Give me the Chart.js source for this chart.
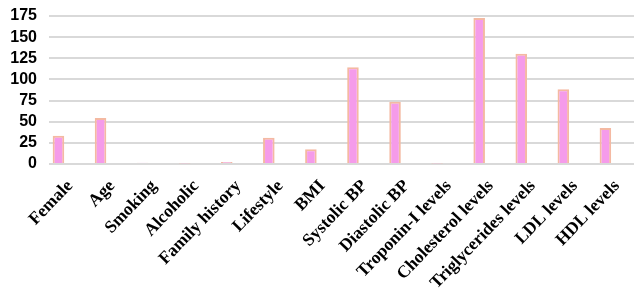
<!DOCTYPE html>
<html>
<head>
<meta charset="utf-8">
<script src="https://cdn.jsdelivr.net/npm/chart.js@4"></script>
<style>
    html, body { margin: 0; padding: 0; background: #fff; overflow: hidden; }
    #wrap { width: 638px; height: 291px; }
</style>
</head>
<body>
<div id="wrap"><canvas id="chart" width="638" height="291"></canvas></div>
<script>
// --- DATA ---
const categories = ['Female', 'Age', 'Smoking', 'Alcoholic', 'Family history', 'Lifestyle', 'BMI',
    'Systolic BP', 'Diastolic BP', 'Troponin-I levels', 'Cholesterol levels', 'Triglycerides levels',
    'LDL levels', 'HDL levels'];
const values = [33.5, 54.5, 1.5, 0.5, 2.5, 31, 17.5, 114.5, 73.5, 0.5, 172.5, 130.5, 88.5, 42.5];
const yTicks = [0, 25, 50, 75, 100, 125, 150, 175];

// --- CHART ---
const ctx = document.getElementById('chart').getContext('2d');
new Chart(ctx, {
    type: 'bar',
    data: {
        labels: categories,
        datasets: [{
            label: 'Series 1',
            data: values,
            backgroundColor: '#F59BEA',
            borderColor: '#F4B9A2',
            borderWidth: 2,
            categoryPercentage: 1.1,
            barPercentage: 0.5
        }, {
            // empty second series (keeps the bars left of centre, like the source)
            label: 'Series 2',
            data: [],
            categoryPercentage: 1.1,
            barPercentage: 0.5
        }]
    },
    options: {
        responsive: false,
        animation: false,
        layout: { padding: { top: 16, right: 0, bottom: 0, left: 0 } },
        plugins: { legend: { display: false }, tooltip: { enabled: false } },
        scales: {
            x: {
                grid: { display: false },
                border: { display: false },
                ticks: {
                    color: '#000',
                    minRotation: 46,
                    maxRotation: 46,
                    autoSkip: false,
                    padding: 4,
                    font: { family: "'Liberation Serif', 'Times New Roman', serif", size: 17.5, weight: 'bold' }
                },
                afterFit: (scale) => { scale.height = 127; scale.paddingLeft = 0; scale.paddingRight = 0; }
            },
            y: {
                min: 0,
                max: yTicks[yTicks.length - 1],
                afterBuildTicks: (scale) => { scale.ticks = yTicks.map(v => ({ value: v })); },
                grid: { color: '#D9D9D9', lineWidth: 2, drawTicks: false },
                border: { display: false },
                ticks: {
                    color: '#000',
                    padding: 12,
                    autoSkip: false,
                    font: { family: "'Liberation Sans', Arial, sans-serif", size: 16, weight: 'bold' }
                },
                afterFit: (scale) => { scale.width = 49; scale.paddingTop = 0; scale.paddingBottom = 0; }
            }
        }
    }
});
</script>
</body>
</html>
